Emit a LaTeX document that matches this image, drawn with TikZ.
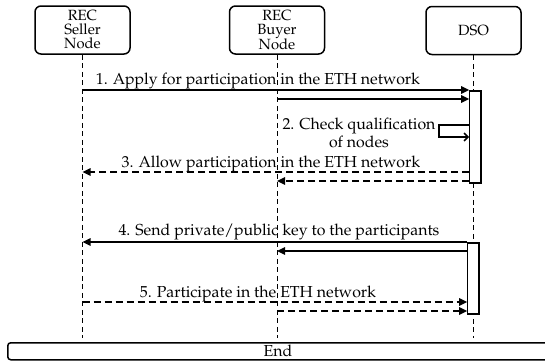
\documentclass[tikz,border=0pt]{standalone}
\usepackage[T1]{fontenc}
\usepackage{mathpazo}
\usetikzlibrary{arrows.meta}
\begin{document}
\begin{tikzpicture}[x=1pt,y=-1pt,
  actor/.style={draw, line width=1.5pt, rounded corners=6pt, minimum width=95pt, minimum height=48pt, align=center, font=\fontsize{14.8}{14}\selectfont, inner sep=0pt},
  life/.style={line width=0.9pt, dash pattern=on 5pt off 3.5pt},
  msg/.style={line width=1.6pt, -{Triangle[length=8pt,width=7.5pt]}},
  rmsg/.style={msg, dash pattern=on 7pt off 4pt},
  self/.style={line width=1.6pt, -{Straight Barb[length=4pt,width=8pt]}},
  act/.style={draw, line width=1.5pt, fill=white, inner sep=0pt},
  lbl/.style={font=\fontsize{15.9}{17}\selectfont, anchor=base, inner sep=0pt}
]
\useasboundingbox (0,0) rectangle (545,360);
% actors
\node[actor] (seller) at (82.5,30) {REC\\Seller\\Node};
\node[actor] (buyer) at (277,30) {REC\\Buyer\\Node};
\node[actor] (dso) at (473.5,30.5) {DSO};
% lifelines
\coordinate (sEnd) at (82.5,338);
\coordinate (bEnd) at (277,338);
\coordinate (dEnd) at (473.5,338);
\draw[life] (seller.south) -- (sEnd);
\draw[life] (buyer.south) -- (bEnd);
\draw[life] (dso.south) -- (dEnd);
% activations
\node[act, minimum width=11.5pt, minimum height=92pt, anchor=north] (act1) at (475,90) {};
\node[act, minimum width=11.5pt, minimum height=71pt, anchor=north] (act2) at (473,242) {};
% endpoint coordinates
\coordinate (s1) at (82.5,90);   \coordinate (d1) at (469.2,90);
\coordinate (b1) at (277,99);    \coordinate (d1b) at (469.2,99);
\coordinate (q1) at (469.2,125); \coordinate (q2) at (439,125);
\coordinate (q3) at (439,137);   \coordinate (q4) at (469.2,137);
\coordinate (d3) at (469.2,172); \coordinate (s3) at (82.5,172);
\coordinate (d3b) at (469.2,181); \coordinate (b3) at (277,181);
\coordinate (d4) at (467.2,242); \coordinate (s4) at (82.5,242);
\coordinate (d4b) at (467.2,251); \coordinate (b4) at (277,251);
\coordinate (s5) at (82.5,302);  \coordinate (d5) at (467.2,302);
\coordinate (b5) at (277,311);   \coordinate (d5b) at (467.2,311);
% messages
\draw[msg] (s1) -- (d1);
\draw[msg] (b1) -- (d1b);
\draw[self] (q1) -- (q2) -- (q3) -- (q4);
\draw[rmsg] (d3) -- (s3);
\draw[rmsg] (d3b) -- (b3);
\draw[msg] (d4) -- (s4);
\draw[msg] (d4b) -- (b4);
\draw[rmsg] (s5) -- (d5);
\draw[rmsg] (b5) -- (d5b);
% labels
\node[lbl] (l1) at (258,84) {1. Apply for participation in the ETH network};
\node[lbl] (l2a) at (359,129) {2. Check qualification};
\node[lbl] (l2b) at (359,147) {of nodes};
\node[lbl] (l3) at (271,167) {3. Allow participation in the ETH network};
\node[lbl] (l4) at (279,235) {4. Send private/public key to the participants};
\node[lbl] (l5) at (258,297) {5. Participate in the ETH network};
% end box
\node[draw, line width=1.5pt, rounded corners=3pt, minimum width=558pt, minimum height=17pt, inner sep=0pt, anchor=north west] (endbox) at (7,342) {};
\node[lbl] (endlbl) at (278,356) {End};
\end{tikzpicture}
\end{document}
